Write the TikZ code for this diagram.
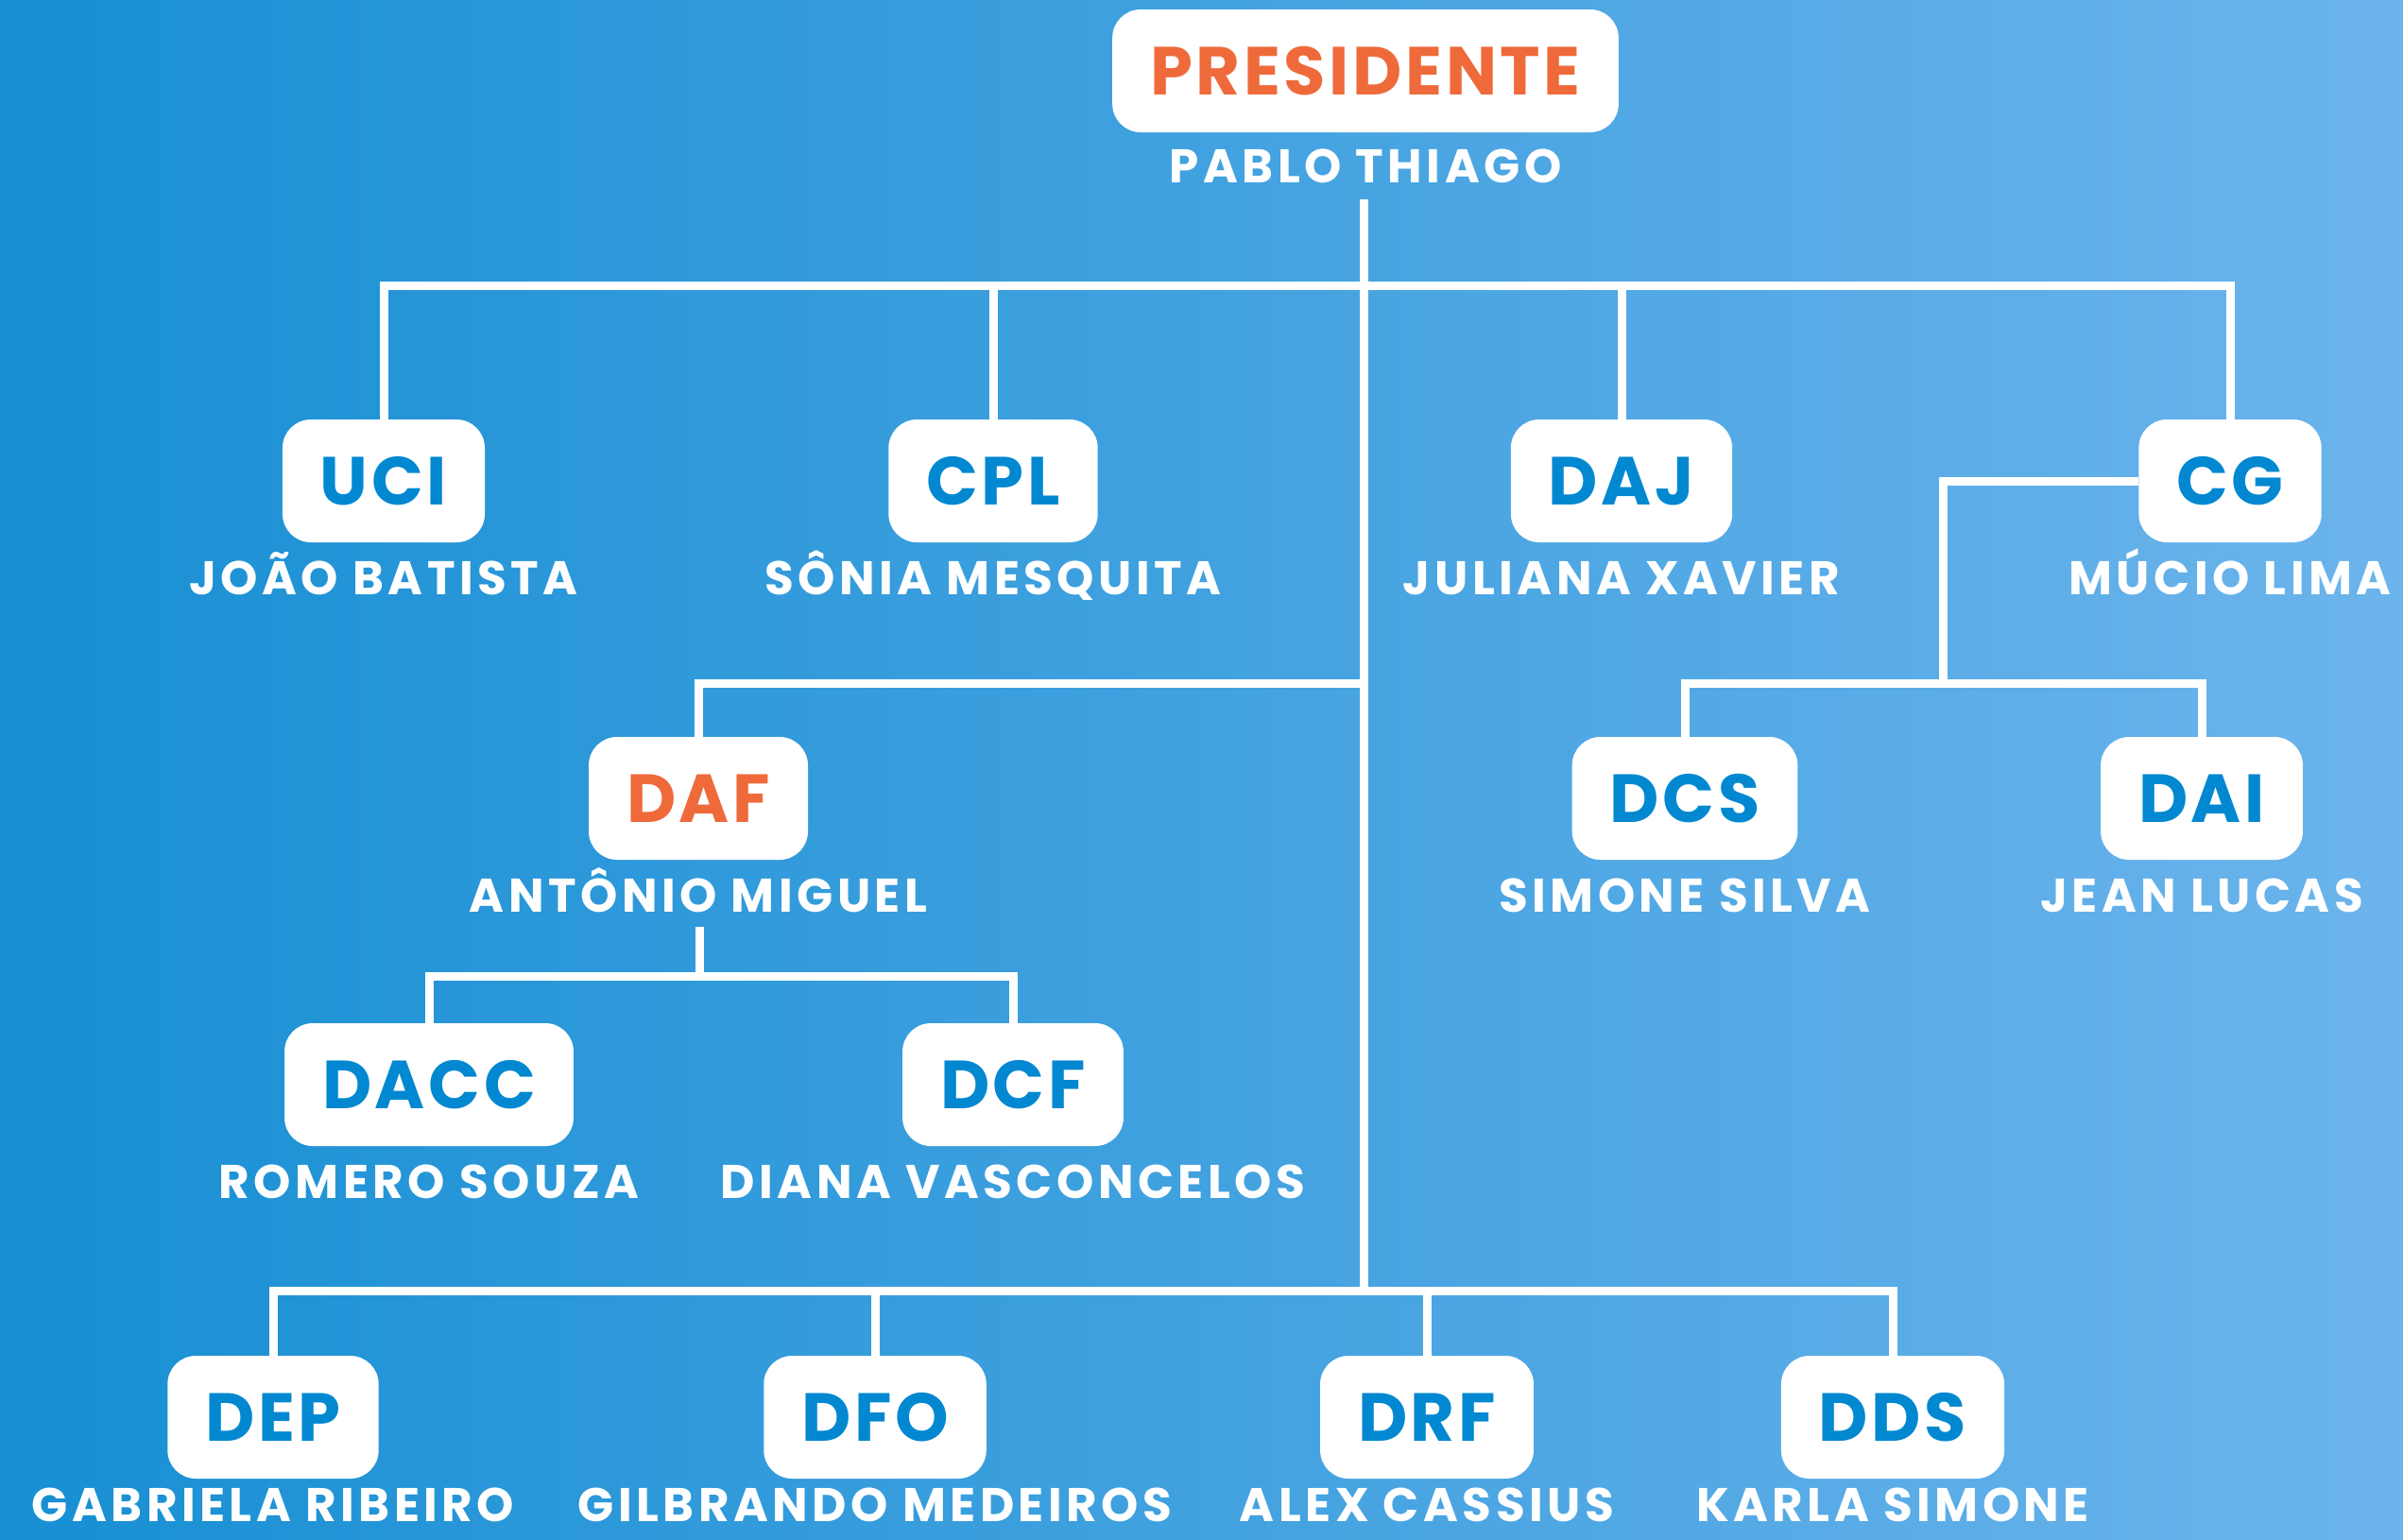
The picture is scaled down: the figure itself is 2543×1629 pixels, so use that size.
\documentclass[tikz,border=0pt]{standalone}
\usepackage{fontspec}
\setmainfont{Poppins}
\newfontfamily\unitfont{Poppins}[LetterSpace=5]
\newfontfamily\personfont{Poppins}[LetterSpace=9]
\usetikzlibrary{positioning}

\definecolor{bgleft}{RGB}{23,143,211}
\definecolor{bgright}{RGB}{108,180,236}
\definecolor{unitblue}{RGB}{2,136,209}
\definecolor{chieforange}{RGB}{239,106,58}

\tikzset{
  unit/.style={fill=white, rounded corners=15pt, minimum height=65pt, inner xsep=20pt,
    text=unitblue, font=\unitfont\bfseries\fontsize{36}{36}\selectfont},
  chief/.style={unit, text=chieforange},
  person/.style={text=white, inner sep=0pt, text height=17.5pt, text depth=0pt,
    font=\personfont\bfseries\fontsize{25}{26}\selectfont},
  wire/.style={draw=white, line width=4.5pt},
}

\begin{document}
\begin{tikzpicture}[x=0.5pt, y=-0.5pt]
    \useasboundingbox (0,0) rectangle (2543,1629);
    \shade[left color=bgleft, right color=bgright] (0,0) rectangle (2543,1629);

    \node [chief](pres) at (1445,75){PRESIDENTE};
    \node [person, below=9pt of pres](pablo){PABLO THIAGO};

    \node [unit](uci) at (406,509){UCI};
    \node [person, below=10pt of uci](joao){JOÃO BATISTA};
    \node [unit](cpl) at (1051,509){CPL};
    \node [person, below=10pt of cpl](sonia){SÔNIA MESQUITA};
    \node [unit](daj) at (1716,509){DAJ};
    \node [person, below=10pt of daj](juliana){JULIANA XAVIER};
    \node [unit](cg) at (2360,509){CG};
    \node [person, below=10pt of cg](mucio){MÚCIO LIMA};

    \node [chief](daf) at (739,845){DAF};
    \node [person, below=10pt of daf](antonio){ANTÔNIO MIGUEL};
    \node [unit](dcs) at (1783,845){DCS};
    \node [person, below=10pt of dcs](simone){SIMONE SILVA};
    \node [unit](dai) at (2330,845){DAI};
    \node [person, below=10pt of dai](jean){JEAN LUCAS};

    \node [unit](dacc) at (454,1148){DACC};
    \node [person, below=10pt of dacc](romero){ROMERO SOUZA};
    \node [unit](dcf) at (1072,1148){DCF};
    \node [person, below=10pt of dcf](diana){DIANA VASCONCELOS};

    \node [unit](dep) at (289,1500){DEP};
    \node [person, below=5pt of dep](gabriela){GABRIELA RIBEIRO};
    \node [unit](dfo) at (926,1500){DFO};
    \node [person, below=5pt of dfo](gilbrando){GILBRANDO MEDEIROS};
    \node [unit](drf) at (1510,1500){DRF};
    \node [person, below=5pt of drf](alex){ALEX CASSIUS};
    \node [unit](dds) at (2003,1500){DDS};
    \node [person, below=5pt of dds](karla){KARLA SIMONE};

    \coordinate (t0) at (1443,211);
    \coordinate (t1) at (1443,302);
    \coordinate (t2) at (1443,723);
    \coordinate (t3) at (1443,1366);
    \coordinate (a0) at (740,981);
    \coordinate (a1) at (740,1033);
    \coordinate (c1) at (2056,723);

    \draw [wire] (t0) -- (t3);
    \draw [wire] (uci) |- (t1) -| (cg);
    \draw [wire] (cpl) -- (cpl |- t1);
    \draw [wire] (daj) -- (daj |- t1);

    \draw [wire] (t2) -| (daf);
    \draw [wire] (a0) -- (a1);
    \draw [wire] (dacc) |- (a1) -| (dcf);

    \draw [wire] (cg) -| (c1);
    \draw [wire] (dcs) |- (c1) -| (dai);

    \draw [wire] (dep) |- (t3) -| (dds);
    \draw [wire] (dfo) -- (dfo |- t3);
    \draw [wire] (drf) -- (drf |- t3);

\end{tikzpicture}
\end{document}
